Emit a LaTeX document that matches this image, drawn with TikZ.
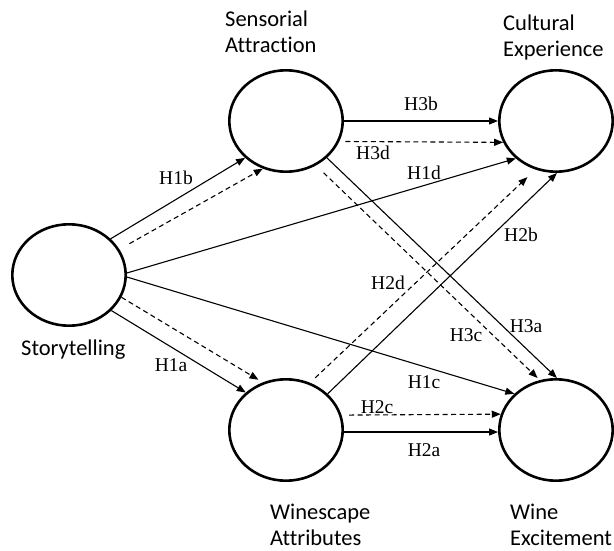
\documentclass[tikz,border=0pt]{standalone}
\usepackage{fontspec}
\setmainfont{Liberation Serif}
\setsansfont[Ligatures=NoCommon]{Carlito}
\usetikzlibrary{arrows.meta,shapes.geometric}

\begin{document}
\begin{tikzpicture}[x=1pt,y=-1pt,
  construct/.style={ellipse,draw,line width=2.6pt,minimum width=113.4pt,minimum height=101.4pt,inner sep=0pt},
  cname/.style={font=\sffamily\fontsize{22.5}{26}\selectfont,anchor=base west,inner sep=0pt,align=left},
  hyp/.style={font=\fontsize{19.5}{22}\selectfont,inner sep=0pt},
  link/.style={line width=1.1pt,-{Triangle[length=9pt,width=7pt]}},
  dlink/.style={link,dash pattern=on 5pt off 3.5pt}
]
\useasboundingbox (0,0) rectangle (614,551);

% constructs
\node[construct] (st) at (69,275) {};
\node[construct] (sa) at (286,121) {};
\node[construct] (ce) at (556,121) {};
\node[construct] (wa) at (286,430) {};
\node[construct] (we) at (556,430) {};

% construct names (anchored at the baseline of the last line)
\node[cname] (tst) at (21,355) {Storytelling};
\node[cname] (tsa) at (225,53) {Sensorial\\Attraction};
\node[cname] (tce) at (503,57) {Cultural\\Experience};
\node[cname] (twa) at (270,545) {Winescape\\Attributes};
\node[cname] (twe) at (510,545) {Wine\\Excitement};

% paths
\draw[link] (st.41.5) -- (sa.-138.5);
\draw[dlink,shorten <=11.5pt] (st.27.4) -- (sa.-116.6);
\draw[link] (st.2) -- (ce.-137.9);
\draw[link] (st.-2) -- (we.139.5);
\draw[link] (st.-40.7) -- (wa.137.9);
\draw[dlink,shorten >=5pt] (st.-23.1) -- (wa.116.6);
\draw[link] (wa.-2) -- (we.182);
\draw[dlink,shorten <=7.5pt] (wa.15.1) -- (we.164.6);
\draw[link] (wa.41.4) -- (ce.-89);
\draw[dlink,shorten <=7pt,shorten >=11pt] (wa.63.1) -- (ce.-113.5);
\draw[link] (sa.east) -- (ce.west);
\draw[dlink,shorten <=6pt] (sa.-21.6) -- (ce.-158.1);
\draw[link] (sa.-42.1) -- (we.89);
\draw[dlink,shorten <=10.5pt,shorten >=3pt] (sa.-56.7) -- (we.108.6);

% hypothesis labels
\node[hyp] (h1b) at (176,178) {H1b};
\node[hyp] (h3b) at (421,104) {H3b};
\node[hyp] (h3d) at (373,153) {H3d};
\node[hyp] (h1d) at (424,173) {H1d};
\node[hyp] (h2b) at (521,235) {H2b};
\node[hyp] (h2d) at (388,283) {H2d};
\node[hyp] (h3c) at (466,335) {H3c};
\node[hyp] (h3a) at (526,326) {H3a};
\node[hyp] (h1c) at (424,382) {H1c};
\node[hyp] (h2c) at (377,407) {H2c};
\node[hyp] (h2a) at (424,450) {H2a};
\node[hyp] (h1a) at (171,365) {H1a};
\end{tikzpicture}
\end{document}
